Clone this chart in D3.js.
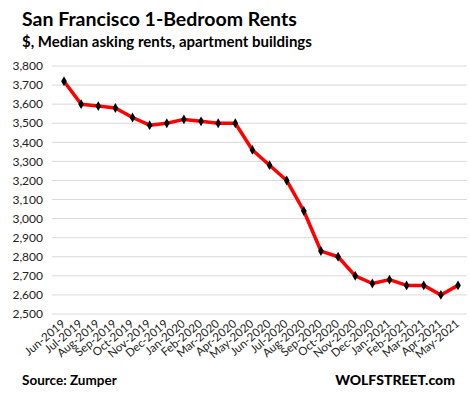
<!DOCTYPE html>
<html><head><meta charset="utf-8">
<script src="https://cdn.jsdelivr.net/npm/d3@7"></script>
<style>body{margin:0;background:#fff}svg{display:block}</style>
</head><body>
<svg id="c" width="470" height="395"></svg>
<script>
const months = ["Jun-2019","Jul-2019","Aug-2019","Sep-2019","Oct-2019","Nov-2019","Dec-2019","Jan-2020","Feb-2020","Mar-2020","Apr-2020","May-2020","Jun-2020","Jul-2020","Aug-2020","Sep-2020","Oct-2020","Nov-2020","Dec-2020","Jan-2021","Feb-2021","Mar-2021","Apr-2021","May-2021"];
const rents = [3720,3600,3590,3580,3530,3490,3500,3520,3510,3500,3500,3360,3280,3200,3040,2830,2800,2700,2660,2680,2650,2650,2600,2650];
const yTicks = [2500,2600,2700,2800,2900,3000,3100,3200,3300,3400,3500,3600,3700,3800];
const title = "San Francisco 1-Bedroom Rents";
const subtitle = "$, Median asking rents, apartment buildings";
const source = "Source: Zumper";
const brand = "WOLFSTREET.com";

const svg = d3.select("#c");
const font = "Lato, 'Open Sans', sans-serif";
const x = d3.scalePoint().domain(months).range([64,458]);
const y = d3.scaleLinear().domain([2500,3800]).range([314,66]);
const gx0 = 52, gx1 = 467;

svg.append("g").selectAll("line").data(yTicks).join("line")
  .attr("x1",gx0).attr("x2",gx1).attr("y1",d=>y(d)).attr("y2",d=>y(d))
  .attr("stroke","#d9d9d9").attr("stroke-width",1);

svg.append("g").selectAll("text").data(yTicks).join("text")
  .attr("x",43).attr("y",d=>y(d)).attr("dy","0.35em").attr("text-anchor","end")
  .attr("font-family",font).attr("font-size",12).attr("fill","#222")
  .text(d=>d3.format(",")(d));

svg.append("g").selectAll("text").data(months).join("text")
  .attr("transform",d=>`translate(${x(d)+2},${325}) rotate(-40)`)
  .attr("text-anchor","end")
  .attr("font-family",font).attr("font-size",11.5).attr("fill","#222")
  .text(d=>d);

const line = d3.line().x((d,i)=>x(months[i])).y(d=>y(d));
svg.append("path").datum(rents).attr("d",line).attr("fill","none")
  .attr("stroke","#ff0000").attr("stroke-width",3.5).attr("stroke-linejoin","round");

svg.append("g").selectAll("path").data(rents).join("path")
  .attr("d",d3.symbol(d3.symbolDiamond,28))
  .attr("transform",(d,i)=>`translate(${x(months[i])},${y(d)})`)
  .attr("fill","#000");

svg.append("text").attr("x",22).attr("y",26).attr("font-family",font).attr("font-weight","bold")
  .attr("font-size",19.5).attr("fill","#000").text(title);
svg.append("text").attr("x",22).attr("y",47).attr("font-family",font).attr("font-weight","bold")
  .attr("font-size",15).attr("fill","#000").text(subtitle);
svg.append("text").attr("x",22).attr("y",385).attr("font-family",font).attr("font-weight","bold")
  .attr("font-size",13.5).attr("fill","#000").text(source);
svg.append("text").attr("x",455).attr("y",385).attr("text-anchor","end").attr("font-family",font).attr("font-weight","900")
  .attr("font-size",14).attr("fill","#000").text(brand);
</script>
</body></html>
